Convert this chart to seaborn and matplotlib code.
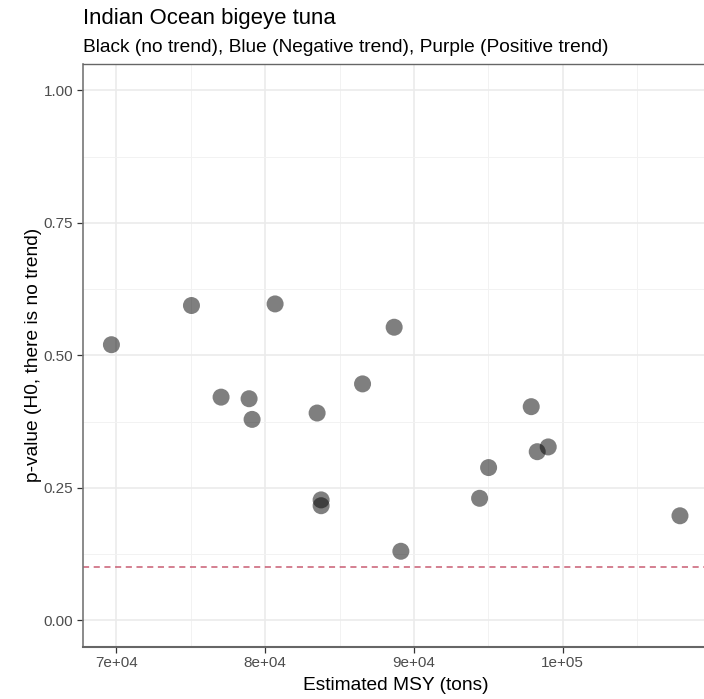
import numpy as np
import pandas as pd
import matplotlib
matplotlib.use("Agg")
import matplotlib.pyplot as plt
import seaborn as sns
from matplotlib.ticker import FixedLocator

# Estimated MSY (tons) and Mann-Kendall p-values per model run
msy = [69664, 75045, 80668, 88672, 77036, 78919, 79121, 83493, 86547,
       83762, 83762, 89123, 97887, 98291, 99031, 95022, 94417, 107888]
pval = [0.520, 0.594, 0.597, 0.553, 0.421, 0.418, 0.379, 0.391, 0.446,
        0.227, 0.216, 0.130, 0.403, 0.318, 0.327, 0.288, 0.230, 0.197]
threshold = 0.1

x_breaks = [70000, 80000, 90000, 100000]
x_labels = ["7e+04", "8e+04", "9e+04", "1e+05"]
y_breaks = [0.0, 0.25, 0.5, 0.75, 1.0]
y_labels = ["0.00", "0.25", "0.50", "0.75", "1.00"]

df = pd.DataFrame({"msy": msy, "pval": pval})

sns.set_theme(style="white")
plt.rcParams["font.family"] = ["Liberation Sans", "DejaVu Sans"]

W, H = 704, 699
fig = plt.figure(figsize=(W / 100, H / 100), dpi=100)
left, right, top, bottom = 83, 708.4, 64.0, 646.6
ax = fig.add_axes([left / W, 1 - bottom / H, (right - left) / W, (bottom - top) / H])

sns.scatterplot(data=df, x="msy", y="pval", ax=ax, s=150, color="black",
                alpha=0.5, edgecolor="none", zorder=3)
ax.axhline(threshold, color="#c0405a", lw=1.1, ls=(0, (4, 3)), alpha=0.85, zorder=2)

# ggplot-style 5% expansion
xr = max(msy) - min(msy)
ax.set_xlim(min(msy) - 0.05 * xr, max(msy) + 0.05 * xr)
ax.set_ylim(-0.05, 1.05)

ax.xaxis.set_major_locator(FixedLocator(x_breaks))
ax.set_xticklabels(x_labels)
ax.xaxis.set_minor_locator(FixedLocator([65000, 75000, 85000, 95000, 105000]))
ax.yaxis.set_major_locator(FixedLocator(y_breaks))
ax.set_yticklabels(y_labels)
ax.yaxis.set_minor_locator(FixedLocator([0.125, 0.375, 0.625, 0.875]))

ax.grid(which="major", color="#ebebeb", lw=1.2, zorder=0)
ax.grid(which="minor", color="#f2f2f2", lw=0.7, zorder=0)
ax.set_axisbelow(True)

ax.tick_params(axis="both", which="major", length=4, width=0.9, color="#333333",
               labelsize=11, labelcolor="#4d4d4d", pad=3, bottom=True, left=True)
ax.tick_params(axis="both", which="minor", length=0)

for side in ["top", "right"]:
    ax.spines[side].set_color("#666666")
    ax.spines[side].set_linewidth(1.0)
ax.spines["left"].set_color("#777777")
ax.spines["left"].set_linewidth(1.2)
ax.spines["bottom"].set_color("#666666")
ax.spines["bottom"].set_linewidth(1.5)

ax.set_xlabel("Estimated MSY (tons)", fontsize=13.8, color="black", labelpad=4.5)
ax.set_ylabel("p-value (H0, there is no trend)", fontsize=13.8, color="black", labelpad=1)

fig.text(left / W, 1 - 24 / H, "Indian Ocean bigeye tuna", fontsize=15.9,
         ha="left", va="baseline", color="black")
fig.text(left / W, 1 - 52 / H,
         "Black (no trend), Blue (Negative trend), Purple (Positive trend)",
         fontsize=13.8, ha="left", va="baseline", color="black")

fig.savefig("out.png", dpi=100)
